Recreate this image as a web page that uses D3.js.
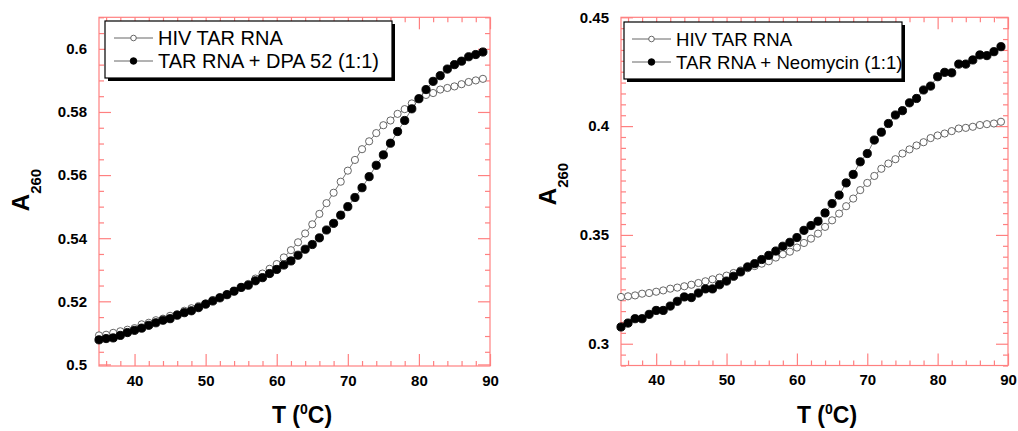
<!DOCTYPE html>
<html>
<head>
<meta charset="utf-8">
<script src="https://cdn.jsdelivr.net/npm/d3@7"></script>
<style>
  body { margin: 0; background: #fff; }
  svg { display: block; }
  text { font-family: Arial, "Liberation Sans", sans-serif; }
</style>
</head>
<body>
<div id="chart"></div>
<script>
// temperaturas 35..89
var temps = d3.range(35, 90);

// panel izquierdo
var tarA = [0.5092,0.5094,0.5100,0.5105,0.5110,0.5115,0.5127,0.5132,0.5140,0.5145,
  0.5154,0.5159,0.5170,0.5178,0.5185,0.5193,0.5204,0.5213,0.5222,0.5233,
  0.5244,0.5255,0.5272,0.5288,0.5303,0.5318,0.5339,0.5362,0.5387,0.5415,
  0.5444,0.5477,0.5511,0.5544,0.5579,0.5614,0.5648,0.5682,0.5707,0.5733,
  0.5758,0.5773,0.5794,0.5809,0.5827,0.5842,0.5854,0.5860,0.5871,0.5876,
  0.5881,0.5888,0.5895,0.5900,0.5905];
var dpa52 = [0.5078,0.5082,0.5084,0.5092,0.5101,0.5108,0.5115,0.5124,0.5132,0.5140,
  0.5145,0.5156,0.5164,0.5170,0.5180,0.5191,0.5201,0.5211,0.5221,0.5232,
  0.5244,0.5251,0.5265,0.5275,0.5288,0.5301,0.5315,0.5328,0.5346,0.5365,
  0.5380,0.5401,0.5426,0.5447,0.5473,0.5500,0.5529,0.5560,0.5595,0.5631,
  0.5664,0.5701,0.5738,0.5773,0.5810,0.5842,0.5871,0.5897,0.5915,0.5936,
  0.5950,0.5961,0.5975,0.5982,0.5990];

// panel derecho
var tarB = [0.3215,0.3218,0.3222,0.3230,0.3233,0.3239,0.3245,0.3253,0.3258,0.3264,
  0.3271,0.3279,0.3287,0.3296,0.3304,0.3313,0.3325,0.3337,0.3347,0.3357,
  0.3368,0.3379,0.3396,0.3411,0.3423,0.3442,0.3463,0.3483,0.3506,0.3537,
  0.3567,0.3598,0.3632,0.3667,0.3706,0.3739,0.3771,0.3804,0.3828,0.3848,
  0.3874,0.3893,0.3911,0.3926,0.3945,0.3957,0.3966,0.3977,0.3989,0.3992,
  0.3997,0.4005,0.4009,0.4012,0.4020];
var neomicina = [0.3077,0.3095,0.3115,0.3115,0.3135,0.3153,0.3153,0.3173,0.3195,0.3215,
  0.3212,0.3233,0.3252,0.3252,0.3271,0.3288,0.3310,0.3330,0.3353,0.3368,
  0.3387,0.3406,0.3426,0.3448,0.3466,0.3488,0.3521,0.3543,0.3563,0.3601,
  0.3644,0.3683,0.3739,0.3778,0.3836,0.3874,0.3936,0.3972,0.4012,0.4051,
  0.4071,0.4107,0.4127,0.4166,0.4184,0.4227,0.4247,0.4245,0.4285,0.4285,
  0.4304,0.4327,0.4324,0.4342,0.4365];

var xTicks = [40, 50, 60, 70, 80, 90];
var yTicksA = [0.5, 0.52, 0.54, 0.56, 0.58, 0.6];
var yTicksB = [0.3, 0.35, 0.4, 0.45];

var rojo = "#ff8080";

var svg = d3.select("#chart").append("svg")
  .attr("width", 1018)
  .attr("height", 431);

function panel(conf) {
  var x = d3.scaleLinear().domain([35, 90]).range([conf.left, conf.right]);
  var y = d3.scaleLinear().domain(conf.yDom).range([conf.bottom, 17.3]);
  var g = svg.append("g");
  var w = conf.right - conf.left, h = conf.bottom - 17.3;

  // marco
  g.append("rect")
    .attr("x", conf.left).attr("y", 17.3)
    .attr("width", w).attr("height", h)
    .attr("fill", "none").attr("stroke", rojo).attr("stroke-width", 1.2);

  var xMinor = d3.range(36, 90, 2).filter(function(d) { return d % 10 != 0; });
  var yMinor = d3.range(conf.yDom[0], conf.yDom[1] + 1e-9, 0.005)
    .map(function(d) { return Math.round(d * 1000) / 1000; })
    .filter(function(d) { return d >= conf.yDom[0] && conf.yMajor.every(function(m) { return Math.abs(m - d) > 1e-6; }); });

  function estilo(sel) {
    sel.select(".domain").remove();
    sel.selectAll("line").attr("stroke", rojo).attr("stroke-width", 1.2);
    sel.selectAll("text")
      .attr("fill", "#000")
      .style("font-size", "15px")
      .style("font-weight", "bold");
  }

  // ejes abajo / arriba
  g.append("g").attr("transform", "translate(0," + conf.bottom + ")")
    .call(d3.axisBottom(x).tickValues(xTicks).tickSize(-12).tickPadding(9).tickFormat(d3.format("d")))
    .call(estilo);
  g.append("g").attr("transform", "translate(0," + conf.bottom + ")")
    .call(d3.axisBottom(x).tickValues(xMinor).tickSize(-5).tickFormat(""))
    .call(estilo);
  g.append("g").attr("transform", "translate(0,17.3)")
    .call(d3.axisTop(x).tickValues(xTicks).tickSize(-12).tickFormat(""))
    .call(estilo);
  g.append("g").attr("transform", "translate(0,17.3)")
    .call(d3.axisTop(x).tickValues(xMinor).tickSize(-5).tickFormat(""))
    .call(estilo);

  // ejes izquierda / derecha
  g.append("g").attr("transform", "translate(" + conf.left + ",0)")
    .call(d3.axisLeft(y).tickValues(conf.yMajor).tickSize(-12).tickPadding(12).tickFormat(d3.format("")))
    .call(estilo);
  g.append("g").attr("transform", "translate(" + conf.left + ",0)")
    .call(d3.axisLeft(y).tickValues(yMinor).tickSize(-5).tickFormat(""))
    .call(estilo);
  g.append("g").attr("transform", "translate(" + conf.right + ",0)")
    .call(d3.axisRight(y).tickValues(conf.yMajor).tickSize(-12).tickFormat(""))
    .call(estilo);
  g.append("g").attr("transform", "translate(" + conf.right + ",0)")
    .call(d3.axisRight(y).tickValues(yMinor).tickSize(-5).tickFormat(""))
    .call(estilo);

  // series
  var line = d3.line()
    .x(function(d) { return x(d.t); })
    .y(function(d) { return y(d.v); });

  conf.series.forEach(function(s) {
    var datos = temps.map(function(t, i) { return {t: t, v: s.values[i]}; });
    g.append("path")
      .datum(datos)
      .attr("fill", "none")
      .attr("stroke", "#555")
      .attr("stroke-width", 0.8)
      .attr("d", line);
    g.selectAll(null)
      .data(datos)
      .enter().append("circle")
      .attr("cx", function(d) { return x(d.t); })
      .attr("cy", function(d) { return y(d.v); })
      .attr("r", s.filled ? 4.1 : 3.6)
      .attr("fill", s.filled ? "#000" : "#fff")
      .attr("stroke", s.filled ? "#000" : "#555")
      .attr("stroke-width", 0.9);
  });

  // leyenda
  var L = conf.legend;
  g.append("rect")
    .attr("x", L.x0 + 3).attr("y", L.y0 + 3)
    .attr("width", L.x1 - L.x0).attr("height", L.y1 - L.y0)
    .attr("fill", "#000");
  g.append("rect")
    .attr("x", L.x0).attr("y", L.y0)
    .attr("width", L.x1 - L.x0).attr("height", L.y1 - L.y0)
    .attr("fill", "#fff").attr("stroke", "#000").attr("stroke-width", 1.2);
  conf.series.forEach(function(s, i) {
    var yy = L.y0 + 17 + i * 23;
    g.append("line")
      .attr("x1", L.lx0).attr("x2", L.lx1)
      .attr("y1", yy).attr("y2", yy)
      .attr("stroke", "#555").attr("stroke-width", 0.9);
    g.append("circle")
      .attr("cx", (L.lx0 + L.lx1) / 2).attr("cy", yy)
      .attr("r", s.filled ? 3.3 : 2.8)
      .attr("fill", s.filled ? "#000" : "#fff")
      .attr("stroke", s.filled ? "#000" : "#555")
      .attr("stroke-width", 0.9);
    g.append("text")
      .attr("x", L.tx).attr("y", yy + 7)
      .style("font-size", L.fs + "px")
      .text(s.name);
  });

  // etiqueta eje y
  var ty = g.append("text")
    .attr("transform", "translate(" + conf.yLab[0] + "," + conf.yLab[1] + ") rotate(-90)")
    .attr("text-anchor", "middle")
    .style("font-weight", "bold");
  ty.append("tspan").style("font-size", "24px").text("A");
  ty.append("tspan").attr("dy", 12).style("font-size", "15px").text("260");

  // etiqueta eje x
  var tx = g.append("text")
    .attr("x", conf.xLab).attr("y", 423)
    .attr("text-anchor", "middle")
    .style("font-weight", "bold")
    .style("font-size", "23px");
  tx.append("tspan").text("T (");
  tx.append("tspan").attr("dy", -9).style("font-size", "14px").text("0");
  tx.append("tspan").attr("dy", 9).text("C)");
}

panel({
  left: 99, right: 490, bottom: 366,
  yDom: [0.4995, 0.61], yMajor: yTicksA,
  series: [
    {name: "HIV TAR RNA", values: tarA, filled: false},
    {name: "TAR RNA + DPA 52 (1:1)", values: dpa52, filled: true}
  ],
  legend: {x0: 105, x1: 392, y0: 21, y1: 78, lx0: 114, lx1: 153, tx: 158, fs: 20},
  yLab: [29, 190],
  xLab: 302
});

panel({
  left: 621, right: 1008, bottom: 365.5,
  yDom: [0.29, 0.45], yMajor: yTicksB,
  series: [
    {name: "HIV TAR RNA", values: tarB, filled: false},
    {name: "TAR RNA + Neomycin (1:1)", values: neomicina, filled: true}
  ],
  legend: {x0: 624, x1: 902, y0: 22, y1: 79, lx0: 632, lx1: 671, tx: 676, fs: 18.6},
  yLab: [556, 184],
  xLab: 827
});
</script>
</body>
</html>
